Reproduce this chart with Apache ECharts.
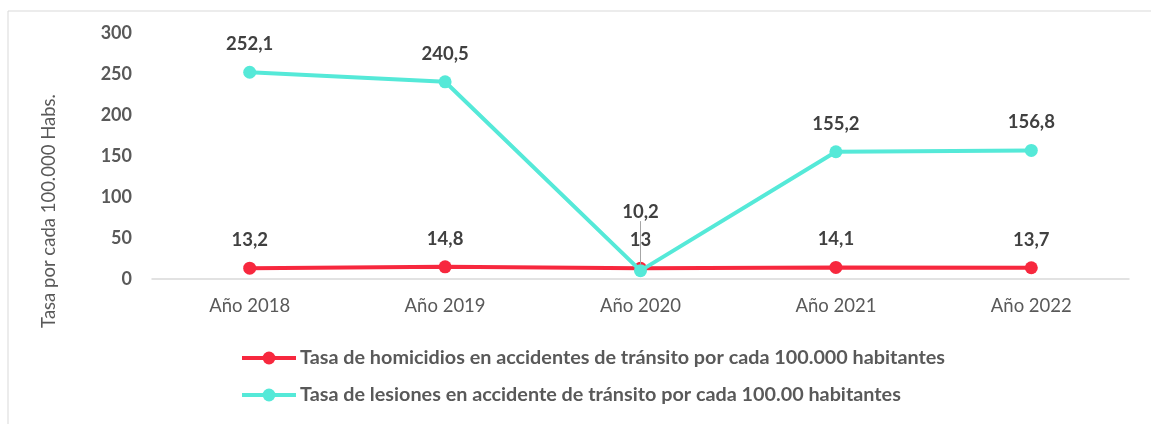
<!DOCTYPE html>
<html>
<head>
<meta charset="utf-8">
<script src="https://cdn.jsdelivr.net/npm/echarts@6/dist/echarts.min.js"></script>
<style>
  html, body { margin: 0; padding: 0; background: #fff; }
  #chart { width: 1151px; height: 424px; }
</style>
</head>
<body>
<div id="chart"></div>
<script>
// Years shown on the category axis
const categories = ['Año 2018', 'Año 2019', 'Año 2020', 'Año 2021', 'Año 2022'];
// Rate of traffic-accident homicides per 100,000 inhabitants
const homicidios = [13.2, 14.8, 13, 14.1, 13.7];
// Rate of traffic-accident injuries per 100,000 inhabitants
const lesiones = [252.1, 240.5, 10.2, 155.2, 156.8];
const serieNames = [
  'Tasa de homicidios en accidentes de tránsito por cada 100.000 habitantes',
  'Tasa de lesiones en accidente de tránsito por cada 100.00 habitantes'
];
const yTicks = { min: 0, max: 300, interval: 50 };

const FONT = 'Lato, "Open Sans", sans-serif';
const RED = '#F7283E';
const CYAN = '#55E9D8';

// Spanish decimal comma
const fmt = v => String(v).replace('.', ',');

const chart = echarts.init(document.getElementById('chart'), null, { renderer: 'canvas' });

const labelStyle = {
  show: true,
  position: 'top',
  distance: 12,
  fontFamily: FONT,
  fontWeight: 'bold',
  fontSize: 18.5,
  color: '#404040',
  formatter: p => fmt(p.value)
};

// The 2020 injury label sits above the homicide label, tied to its point by a leader line
const lesionesData = lesiones.map((v, i) =>
  i === 2 ? { value: v, labelLine: { show: true } } : v
);

chart.setOption({
  animation: false,
  graphic: [{
    type: 'rect',
    shape: { x: 8, y: 11, width: 1160, height: 430 },
    style: { fill: 'none', stroke: '#d9d9d9', lineWidth: 1 },
    silent: true,
    z: -1
  }],
  grid: { left: 152, right: 22, top: 33, bottom: 145, containLabel: false },
  legend: {
    orient: 'vertical',
    left: 235,
    top: 343,
    itemWidth: 54,
    itemHeight: 16,
    itemGap: 17,
    lineStyle: { width: 4 },
    textStyle: { fontFamily: FONT, fontWeight: 'bold', fontSize: 19.8, color: '#595959', padding: [0, 0, 0, -1] },
    data: serieNames
  },
  xAxis: {
    type: 'category',
    data: categories,
    boundaryGap: true,
    axisLine: { lineStyle: { color: '#d9d9d9', width: 1.5 } },
    axisTick: { show: false },
    axisLabel: { fontFamily: FONT, fontSize: 18.5, color: '#595959', margin: 18 }
  },
  yAxis: {
    type: 'value',
    min: yTicks.min,
    max: yTicks.max,
    interval: yTicks.interval,
    name: 'Tasa por cada 100.000 Habs.',
    nameLocation: 'middle',
    nameGap: 93,
    nameTextStyle: { fontFamily: FONT, fontSize: 18.5, color: '#595959', padding: [0, 110, 0, 0] },
    axisLine: { show: false },
    axisTick: { show: false },
    splitLine: { show: false },
    axisLabel: { fontFamily: FONT, fontWeight: 'bold', fontSize: 18, color: '#595959', margin: 20 }
  },
  series: [
    {
      name: serieNames[0],
      type: 'line',
      data: homicidios,
      symbol: 'circle',
      symbolSize: 13,
      lineStyle: { color: RED, width: 4 },
      itemStyle: { color: RED },
      label: labelStyle,
      z: 2
    },
    {
      name: serieNames[1],
      type: 'line',
      data: lesionesData,
      symbol: 'circle',
      symbolSize: 13,
      lineStyle: { color: CYAN, width: 4 },
      itemStyle: { color: CYAN },
      label: labelStyle,
      labelLine: { show: false, lineStyle: { color: '#a6a6a6', width: 1 } },
      labelLayout: p => (p.dataIndex === 2 ? { dy: -31 } : {}),
      z: 3
    }
  ]
});
</script>
</body>
</html>
